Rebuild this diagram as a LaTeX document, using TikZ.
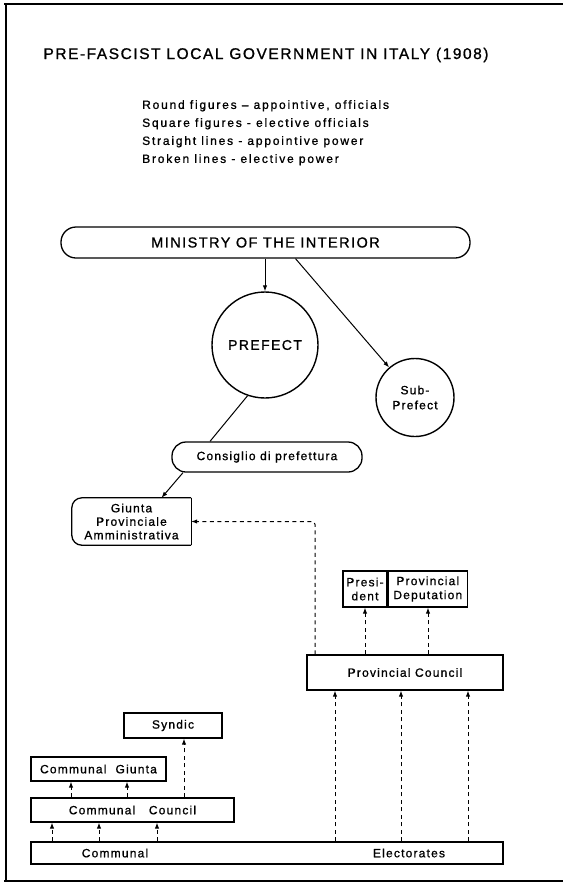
\documentclass[tikz,border=0pt]{standalone}
\usepackage{fontspec}
\setmainfont{Liberation Sans}[LetterSpace=10,FakeBold=1]
\usetikzlibrary{arrows.meta,calc}

\tikzset{
  box/.style={draw, line width=1.3pt, inner sep=0pt, align=center, font=\fontsize{12}{14}\selectfont},
  pill/.style={box, rounded corners=#1},
  offcircle/.style={draw, circle, line width=1.4pt, inner sep=0pt, align=center},
  apline/.style={line width=1pt, -{Latex[length=6pt,width=4.5pt]}},
  elline/.style={line width=1pt, dash pattern=on 4pt off 3.5pt, -{Latex[length=6pt,width=4.5pt]}},
}

\begin{document}
\begin{tikzpicture}[x=1pt,y=-1pt]
\useasboundingbox (0,0) rectangle (563,884);
\draw[line width=2pt] (6,3) -- (6,882);
\draw[line width=1.2pt] (4,4) -- (563,4);
\draw[line width=1.2pt] (4,881) -- (563,881);

\node[font=\fontsize{15.5}{18}\selectfont] (title) at (266,55) {PRE-FASCIST LOCAL GOVERNMENT IN ITALY (1908)};
\node[anchor=north west, align=left, inner sep=0pt, font=\fontsize{12}{18}\selectfont\addfontfeature{LetterSpace=15}] (legend) at (142,100)
  {Round figures -- appointive, officials\\Square figures - elective officials\\Straight lines - appointive power\\Broken lines - elective power};

\node[pill=15pt, minimum width=409pt, minimum height=31pt, font=\fontsize{14.5}{16}\selectfont] (ministry) at (265.5,242.5) {MINISTRY OF THE INTERIOR};
\node[offcircle, minimum size=106pt, font=\fontsize{14}{17}\selectfont] (prefect) at (265,345) {PREFECT};
\node[offcircle, minimum size=78pt, font=\fontsize{12}{15}\selectfont] (subprefect) at (415,397.5) {Sub-\\Prefect};
\node[pill=14pt, minimum width=190pt, minimum height=30pt] (consiglio) at (267,457) {Consiglio di prefettura};
\node[minimum width=119pt, minimum height=47pt, inner sep=0pt, align=center, font=\fontsize{12}{13.5}\selectfont] (giunta) at (131.5,521.5) {Giunta\\Provinciale\\Amministrativa};
\draw[line width=1.3pt, rounded corners=10pt] (giunta.north east) -- (giunta.north west) -- (giunta.south west) -- (giunta.south east);
\draw[line width=1.3pt] (giunta.south east) -- (giunta.north east);

\node[box, minimum width=44pt, minimum height=36pt] (presi) at (365,589) {Presi-\\dent};
\node[box, minimum width=79pt, minimum height=36pt, anchor=west] (deput) at (presi.east) {Provincial\\Deputation};
\node[box, minimum width=196pt, minimum height=35pt] (provcouncil) at (405,672.5) {Provincial Council};

\node[box, minimum width=98pt, minimum height=25pt] (syndic) at (173,725.5) {Syndic};
\node[box, minimum width=135pt, minimum height=24pt] (commgiunta) at (98.5,769) {Communal\ \ Giunta};
\node[box, minimum width=203pt, minimum height=24pt] (commcouncil) at (132.5,810) {Communal\ \ \ Council};
\node[box, minimum width=472pt, minimum height=22pt] (electorate) at (267,853) {};
\node[font=\fontsize{12}{14}\selectfont] (elcommunal) at (115,853) {Communal};
\node[font=\fontsize{12}{14}\selectfont] (elelectorates) at (409,853) {Electorates};

\draw[apline] (prefect.north |- ministry.south) -- (prefect.north);
\draw[apline] ([xshift=30pt]ministry.south) -- (subprefect);
\draw[line width=1pt] (prefect.-109) -- ([xshift=-57pt]consiglio.north);
\draw[apline] ([xshift=-84pt]consiglio.south) -- ([xshift=30pt]giunta.north);
\draw[elline, rounded corners=3pt] ([xshift=-90pt]provcouncil.north) |- (giunta.east);
\draw[elline] (presi.south |- provcouncil.north) -- (presi.south);
\draw[elline] (428,0 |- provcouncil.north) -- (428,0 |- deput.south);
\foreach \x in {335,401,468}
  \draw[elline] (\x,0 |- electorate.north) -- (\x,0 |- provcouncil.south);
\foreach \x in {52,99,157}
  \draw[elline] (\x,0 |- electorate.north) -- (\x,0 |- commcouncil.south);
\foreach \x in {71,127}
  \draw[elline] (\x,0 |- commcouncil.north) -- (\x,0 |- commgiunta.south);
\draw[elline] (184,0 |- commcouncil.north) -- (184,0 |- syndic.south);
\end{tikzpicture}
\end{document}
